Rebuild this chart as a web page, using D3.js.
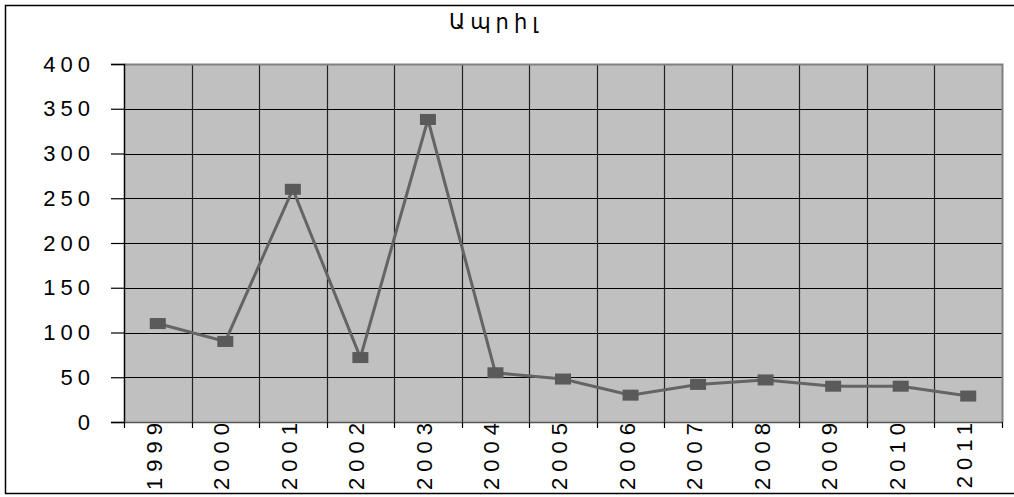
<!DOCTYPE html>
<html>
<head>
<meta charset="utf-8">
<script src="https://cdn.jsdelivr.net/npm/d3@7"></script>
<style>
  body { margin: 0; background: #fff; }
  text { font-family: "Liberation Sans", Arial, "DejaVu Sans", sans-serif; fill: #000; }
</style>
</head>
<body>
<svg id="chart" width="1014" height="497"></svg>
<script>
var title = "Ապրիլ";
var years = ["1999", "2000", "2001", "2002", "2003", "2004", "2005", "2006", "2007", "2008", "2009", "2010", "2011"];
var values = [110, 90, 260, 72, 338, 55, 48, 30, 42, 47, 40, 40, 29];
var yTicks = [0, 50, 100, 150, 200, 250, 300, 350, 400];

var svg = d3.select("#chart");
var plotL = 124, plotR = 1002, plotT = 64, plotB = 422;

// outer frame
svg.append("rect")
    .attr("x", 5.5).attr("y", 5.5)
    .attr("width", 1010).attr("height", 488)
    .attr("fill", "none").attr("stroke", "#000").attr("stroke-width", 1.5);

var x = d3.scaleBand().domain(years).range([plotL, plotR]);
var y = d3.scaleLinear().domain([0, 400]).range([plotB, plotT]);

// plot background
svg.append("rect")
    .attr("x", plotL).attr("y", plotT)
    .attr("width", plotR - plotL).attr("height", plotB - plotT)
    .attr("fill", "#c0c0c0");

// horizontal grid
svg.selectAll("line.hgrid")
    .data(yTicks).enter()
    .append("line").attr("class", "hgrid")
    .attr("x1", plotL).attr("x2", plotR)
    .attr("y1", function (d) { return Math.round(y(d)) + 0.5; })
    .attr("y2", function (d) { return Math.round(y(d)) + 0.5; })
    .attr("stroke", "#000").attr("stroke-width", 1.2);

// vertical grid at category boundaries
svg.selectAll("line.vgrid")
    .data(years.slice(1)).enter()
    .append("line").attr("class", "vgrid")
    .attr("x1", function (d) { return Math.round(x(d)) + 0.5; })
    .attr("x2", function (d) { return Math.round(x(d)) + 0.5; })
    .attr("y1", plotT).attr("y2", plotB)
    .attr("stroke", "#222").attr("stroke-width", 1.2);

// plot border (top/right gray)
svg.append("path")
    .attr("d", "M" + plotL + "," + (plotT + 0.5) + "H" + (plotR + 0.5) + "V" + plotB)
    .attr("fill", "none").attr("stroke", "#808080").attr("stroke-width", 2);

// y axis
var yAxis = d3.axisLeft(y).tickValues(yTicks).tickSize(13).tickPadding(21);
var gy = svg.append("g").attr("transform", "translate(" + plotL + ",0)").call(yAxis);
gy.select(".domain").attr("stroke", "#000").attr("stroke-width", 1.5);
gy.selectAll(".tick line").attr("stroke", "#000").attr("stroke-width", 1.2);
gy.selectAll(".tick text")
    .attr("font-size", 22).attr("letter-spacing", "5px")
    .attr("dx", 5)
    .attr("font-family", "\"Liberation Sans\", Arial, sans-serif");

// x axis line and ticks
svg.append("line")
    .attr("x1", plotL).attr("x2", plotR + 1)
    .attr("y1", plotB + 0.5).attr("y2", plotB + 0.5)
    .attr("stroke", "#555").attr("stroke-width", 1.5);

var bounds = years.map(function (d) { return x(d); }).concat([plotR]);
svg.selectAll("line.xtick")
    .data(bounds).enter()
    .append("line").attr("class", "xtick")
    .attr("x1", function (d) { return Math.round(d) + 0.5; })
    .attr("x2", function (d) { return Math.round(d) + 0.5; })
    .attr("y1", plotB).attr("y2", plotB + 6)
    .attr("stroke", "#000").attr("stroke-width", 1.2);

svg.selectAll("text.xlab")
    .data(years).enter()
    .append("text").attr("class", "xlab")
    .attr("transform", function (d) {
        return "translate(" + (x(d) + x.bandwidth() / 2 + 4) + "," + (plotB + 1) + ") rotate(-90)";
    })
    .attr("text-anchor", "end")
    .attr("font-size", 22).attr("letter-spacing", "6px")
    .attr("dx", 6)
    .text(function (d) { return d; });

// line
var line = d3.line()
    .x(function (d, i) { return x(years[i]) + x.bandwidth() / 2; })
    .y(function (d) { return y(d); });

svg.append("path")
    .datum(values)
    .attr("d", line)
    .attr("fill", "none").attr("stroke", "#646464").attr("stroke-width", 3);

svg.selectAll("rect.marker")
    .data(values).enter()
    .append("rect").attr("class", "marker")
    .attr("x", function (d, i) { return x(years[i]) + x.bandwidth() / 2 - 8; })
    .attr("y", function (d) { return y(d) - 5.5; })
    .attr("width", 16).attr("height", 11)
    .attr("fill", "#5a5a5a");

// title
svg.append("text")
    .attr("x", 496).attr("y", 29)
    .attr("text-anchor", "middle")
    .attr("font-size", 21).attr("letter-spacing", "5px")
    .attr("font-family", "\"DejaVu Sans\", sans-serif")
    .text(title);
</script>
</body>
</html>
